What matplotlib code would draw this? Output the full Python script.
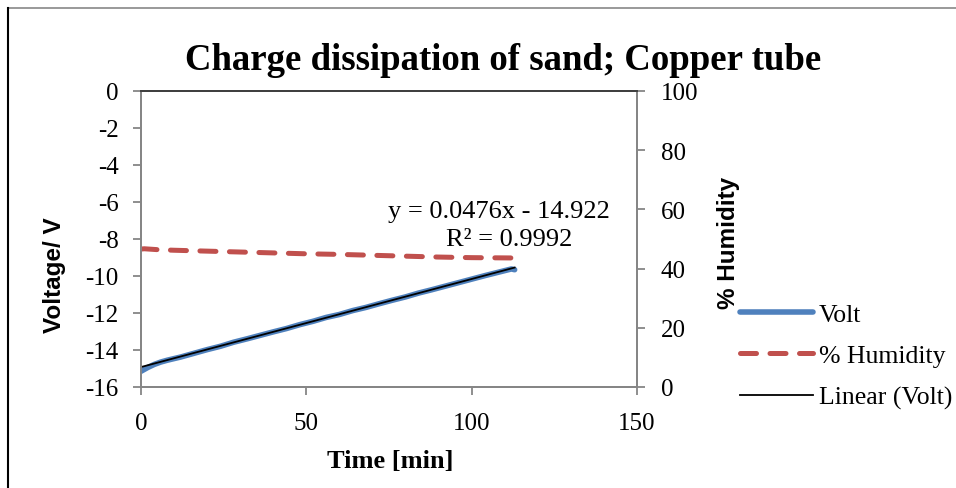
import matplotlib
matplotlib.use("Agg")
import matplotlib.pyplot as plt
from matplotlib.lines import Line2D

time_volt = [0, 2, 4, 6, 8, 12, 16, 20, 24, 28, 32, 36, 40, 44, 48, 52, 56,
             60, 64, 68, 72, 76, 80, 84, 88, 92, 96, 100, 104, 108, 112, 113]
volt = [-15.15, -14.95, -14.78, -14.65, -14.55, -14.38, -14.18, -13.98, -13.80,
        -13.58, -13.40, -13.21, -13.02, -12.84, -12.63, -12.45, -12.24, -12.08,
        -11.87, -11.70, -11.50, -11.31, -11.13, -10.92, -10.74, -10.55, -10.36,
        -10.17, -9.98, -9.80, -9.62, -9.66]
time_hum = [0, 1, 5, 10, 20, 30, 40, 50, 60, 70, 80, 90, 100, 112]
humidity = [46.6, 46.7, 46.4, 46.2, 45.9, 45.6, 45.3, 45.0, 44.8, 44.5, 44.2,
            43.9, 43.7, 43.6]
fit_slope = 0.0476
fit_intercept = -14.922
fit_r2 = 0.9992
fit_range = [0, 113]

xticks = [0, 50, 100, 150]
yticks_left = [0, -2, -4, -6, -8, -10, -12, -14, -16]
yticks_right = [0, 20, 40, 60, 80, 100]

serif = ["Liberation Serif", "DejaVu Serif"]
sans = ["Liberation Sans", "DejaVu Sans"]
plt.rcParams["font.family"] = serif
plt.rcParams["axes.unicode_minus"] = False

W, H = 956, 489
fig = plt.figure(figsize=(W / 100, H / 100), dpi=100)
ax = fig.add_axes([141 / W, 1 - 388 / H, 496 / W, 296 / H])
ax2 = ax.twinx()

blue = "#4F81BD"
red = "#C0504D"
gray = "#868686"

l1, = ax.plot(time_volt, volt, color=blue, lw=4.0, solid_capstyle="round", label="Volt", zorder=3)
fit_y = [fit_slope * x + fit_intercept for x in fit_range]
l3, = ax.plot(fit_range, fit_y, color="black", lw=1.3, label="Linear (Volt)", zorder=4)
l2, = ax2.plot(time_hum, humidity, color=red, lw=3.6, dashes=(3.2, 2.7), dash_capstyle="round",
               label="% Humidity")

ax.set_xlim(0, 150)
ax.set_ylim(-16, 0)
ax2.set_ylim(0, 100)
ax.set_xticks(xticks)
ax.set_yticks(yticks_left)
ax2.set_yticks(yticks_right)

for a in (ax, ax2):
    for s in a.spines.values():
        s.set_color(gray)
        s.set_linewidth(1.4)
    a.spines["top"].set_color("#404040")
    a.tick_params(colors="black", labelsize=18, length=6, width=1.3, color=gray)
ax.tick_params(axis="x", pad=12)
ax.tick_params(axis="y", pad=10)
ax2.tick_params(axis="y", pad=11)

fig.text(390 / W, 1 - 462 / H, "Time [min]", ha="center", va="center",
         fontsize=19, fontweight="bold")
fig.text(54 / W, 1 - 275 / H, "Voltage/ V", ha="center", va="center", rotation=90,
         fontsize=17.5, fontweight="bold", family=sans)
fig.text(728 / W, 1 - 243 / H, "% Humidity", ha="center", va="center", rotation=90,
         fontsize=17.5, fontweight="bold", family=sans)

fig.text(503 / W, 1 - 60 / H, "Charge dissipation of sand; Copper tube", ha="center", va="center",
         fontsize=26.5, fontweight="bold")

ax.text(108.3, -6.49, "y = 0.0476x - 14.922", ha="center", va="center", fontsize=19)
ax.text(111.3, -8.0, f"R² = {fit_r2}", ha="center", va="center", fontsize=19)

leg = fig.legend([l1, l2, l3], ["Volt", "% Humidity", "Linear (Volt)"],
                 loc="center left", bbox_to_anchor=(740 / W, 1 - 357 / H), frameon=False,
                 fontsize=18.5, handlelength=2.85, handletextpad=0.22, labelspacing=0.72,
                 borderaxespad=0, borderpad=0)

fig.add_artist(Line2D([8 / W, 1], [1 - 9 / H, 1 - 9 / H], color="#888888", lw=1.2,
                      transform=fig.transFigure))
fig.add_artist(Line2D([8 / W, 8 / W], [0, 1 - 9 / H], color="black", lw=1.5,
                      transform=fig.transFigure))

fig.savefig("out.png", dpi=100)
